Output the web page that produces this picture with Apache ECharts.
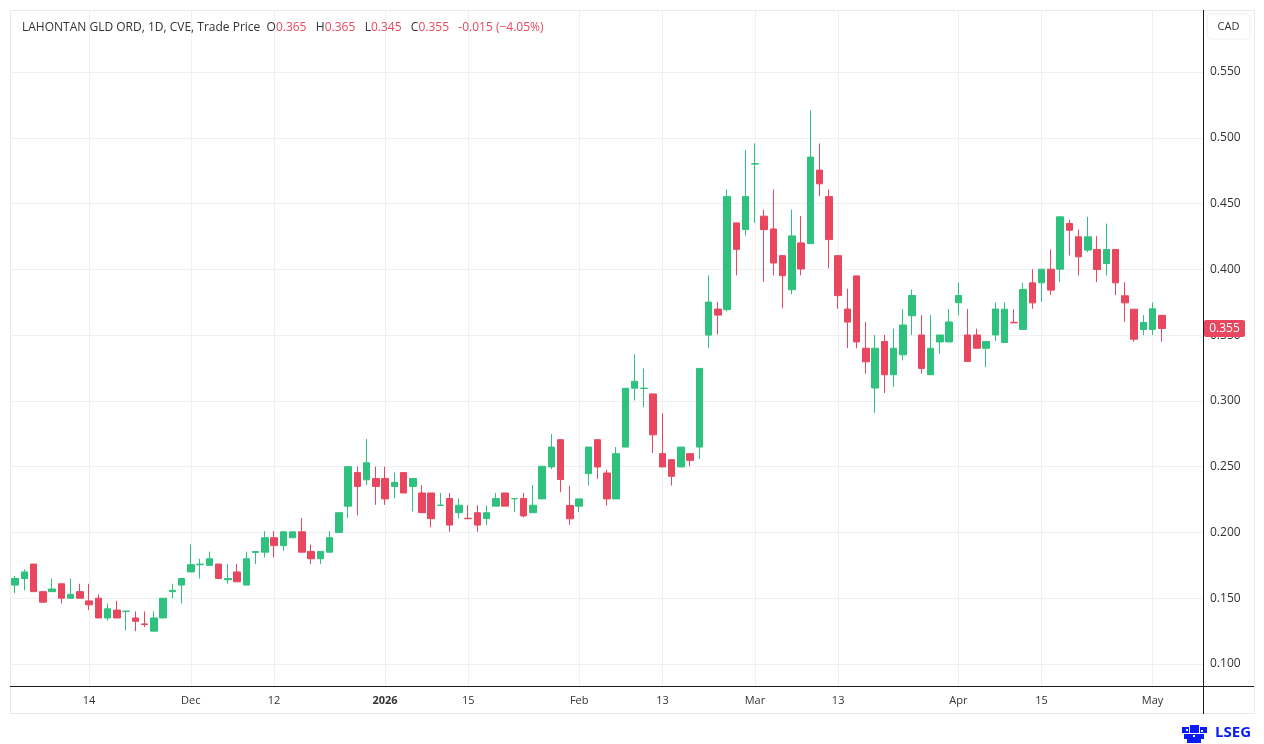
<!DOCTYPE html>
<html>
<head>
<meta charset="utf-8">
<script src="https://cdn.jsdelivr.net/npm/echarts@6/dist/echarts.min.js"></script>
<style>
html,body{margin:0;padding:0;background:#fff;}
#chart{width:1264px;height:744px;}
</style>
</head>
<body>
<div id="chart"></div>
<script>
// Trading days (CVE), Nov 4 2025 - May 4 2026
const dates = [
 '2025-11-04','2025-11-05','2025-11-06','2025-11-07','2025-11-10','2025-11-11','2025-11-12','2025-11-13','2025-11-14',
 '2025-11-17','2025-11-18','2025-11-19','2025-11-20','2025-11-21','2025-11-24','2025-11-25','2025-11-26','2025-11-27','2025-11-28',
 '2025-12-01','2025-12-02','2025-12-03','2025-12-04','2025-12-05','2025-12-08','2025-12-09','2025-12-10','2025-12-11','2025-12-12',
 '2025-12-15','2025-12-16','2025-12-17','2025-12-18','2025-12-19','2025-12-22','2025-12-23','2025-12-24','2025-12-29','2025-12-30','2025-12-31',
 '2026-01-02','2026-01-05','2026-01-06','2026-01-07','2026-01-08','2026-01-09','2026-01-12','2026-01-13','2026-01-14','2026-01-15',
 '2026-01-16','2026-01-19','2026-01-20','2026-01-21','2026-01-22','2026-01-23','2026-01-26','2026-01-27','2026-01-28','2026-01-29','2026-01-30',
 '2026-02-02','2026-02-03','2026-02-04','2026-02-05','2026-02-06','2026-02-09','2026-02-10','2026-02-11','2026-02-12','2026-02-13',
 '2026-02-17','2026-02-18','2026-02-19','2026-02-20','2026-02-23','2026-02-24','2026-02-25','2026-02-26','2026-02-27',
 '2026-03-02','2026-03-03','2026-03-04','2026-03-05','2026-03-06','2026-03-09','2026-03-10','2026-03-11','2026-03-12','2026-03-13',
 '2026-03-16','2026-03-17','2026-03-18','2026-03-19','2026-03-20','2026-03-23','2026-03-24','2026-03-25','2026-03-26','2026-03-27','2026-03-30','2026-03-31',
 '2026-04-01','2026-04-02','2026-04-06','2026-04-07','2026-04-08','2026-04-09','2026-04-10','2026-04-13','2026-04-14','2026-04-15',
 '2026-04-16','2026-04-17','2026-04-20','2026-04-21','2026-04-22','2026-04-23','2026-04-24','2026-04-27','2026-04-28','2026-04-29','2026-04-30',
 '2026-05-01','2026-05-04'
];

const opens = [
 .160,.165,.176,.155,.155,.161,.150,.155,.148,.150,.135,.141,.140,.135,.1305,.125,.135,.155,.160,.170,
 .1755,.175,.176,.164,.170,.160,.1848,.185,.196,.190,.196,.2005,.1856,.180,.185,.200,.220,.2455,.240,.241,
 .241,.235,.2455,.235,.230,.230,.2205,.2258,.215,.2108,.215,.2106,.220,.230,.2256,.2258,.215,.2255,.2498,.2705,
 .2205,.220,.2447,.2705,.2452,.2255,.2649,.3096,.3094,.3053,.2599,.2553,.2498,.2599,.2649,.350,.3698,.3693,.4353,.4302,
 .4800,.4404,.4307,.4104,.3845,.4201,.4195,.4754,.4553,.4104,.3698,.395,.340,.3098,.3451,.3199,.335,.3647,.3501,.3199,
 .3448,.3448,.3746,.3501,.3501,.340,.3501,.3444,.3597,.3543,.3897,.3897,.4001,.4001,.4348,.4247,.4146,.4151,.4044,.4151,
 .3799,.3697,.3543,.3543,.365
];
const highs = [
 .167,.172,.176,.155,.165,.161,.165,.161,.161,.153,.146,.148,.1405,.140,.140,.140,.150,.161,.165,.191,
 .180,.1855,.176,.176,.176,.1855,.1858,.201,.201,.2005,.2005,.211,.191,.1856,.201,.215,.250,.250,.271,.250,
 .250,.2455,.2455,.241,.236,.230,.230,.230,.2258,.2207,.2207,.2207,.230,.230,.2258,.230,.236,.2503,.2748,.2705,
 .2356,.2255,.2649,.2705,.2477,.2649,.3096,.3354,.3247,.3053,.2907,.2553,.2649,.2599,.3247,.3954,.3751,.4607,.4353,.4906,
 .4957,.4454,.4607,.4104,.4454,.4404,.5208,.4957,.4607,.4104,.3853,.395,.360,.3501,.3501,.3549,.3698,.3846,.3652,.3652,
 .3501,.3698,.3899,.3698,.3549,.3451,.3746,.3748,.3697,.3897,.4001,.4001,.4151,.4399,.4378,.4303,.4399,.4252,.4348,.4151,
 .3902,.3697,.3652,.3748,.365
];
const lows = [
 .154,.156,.155,.147,.155,.146,.150,.150,.141,.135,.133,.135,.1255,.125,.128,.125,.135,.150,.146,.170,
 .165,.175,.165,.161,.1625,.160,.176,.181,.181,.186,.196,.185,.176,.176,.185,.200,.211,.213,.236,.221,
 .221,.226,.230,.216,.215,.204,.2205,.2005,.2106,.2104,.2005,.2056,.220,.220,.2157,.2114,.215,.2255,.2482,.2306,
 .2058,.2154,.2356,.2407,.2205,.2255,.2649,.3003,.2952,.2604,.2498,.2356,.2498,.2503,.2558,.3401,.3505,.368,.3954,.4256,
 .4353,.3904,.3954,.3703,.381,.3954,.4195,.4556,.4008,.370,.3401,.340,.3207,.2909,.306,.3106,.3307,.3501,.3207,.3199,
 .3358,.3448,.3652,.330,.340,.3257,.3456,.3444,.3593,.3543,.370,.3753,.3804,.3902,.4106,.3953,.4130,.3902,.3953,.3804,
 .3601,.3449,.350,.350,.345
];
const closes = [
 .165,.170,.155,.147,.157,.150,.153,.150,.145,.135,.142,.135,.1402,.1325,.130,.135,.150,.156,.165,.1755,
 .176,.180,.165,.165,.1625,.180,.1855,.196,.190,.2005,.2005,.185,.180,.1856,.196,.215,.250,.235,.253,.235,
 .2255,.238,.230,.241,.215,.2105,.2208,.2056,.2207,.2104,.2056,.215,.2258,.220,.2258,.2126,.2207,.2503,.2649,.2402,
 .2104,.2255,.2649,.2498,.2255,.2599,.3096,.3149,.3097,.2742,.2498,.2427,.2649,.2548,.3247,.3751,.3652,.4553,.4152,.4553,
 .4803,.4302,.4048,.3952,.4254,.4003,.4853,.465,.4226,.380,.3599,.3448,.3297,.340,.3199,.340,.3577,.3801,.3247,.340,
 .3501,.360,.3801,.330,.340,.3451,.3698,.3697,.3593,.3847,.3745,.4001,.3842,.4399,.4297,.4095,.4247,.3999,.4151,.3897,
 .3745,.3469,.3596,.370,.355
];

// x-axis tick labels (trading-day index -> text)
const tickIndex = [8, 19, 28, 40, 49, 61, 70, 80, 89, 102, 111, 123];
const tickText  = ['14','Dec','12','2026','15','Feb','13','Mar','13','Apr','15','May'];
// y-axis tick labels
const priceTicks = [0.100,0.150,0.200,0.250,0.300,0.350,0.400,0.450,0.500,0.550];

const UP = '#2fc27f', DOWN = '#e8475f';

const candleData = dates.map((d, i) => [i, opens[i], closes[i], lows[i], highs[i]]);
const tickMap = {};
tickIndex.forEach((v, k) => tickMap[v] = tickText[k]);

const last = dates.length - 1;
const chg = closes[last] - closes[last - 1];
const pct = chg / closes[last - 1] * 100;
const fmtSigned = v => (v < 0 ? '-' : '+') + Math.abs(v).toFixed(3);

const chart = echarts.init(document.getElementById('chart'), null, {renderer: 'canvas'});
const FONT = 'Open Sans, Noto Sans, sans-serif';
const SP = '   ';

const option = {
  animation: false,
  backgroundColor: '#ffffff',
  textStyle: {fontFamily: FONT},
  title: {
    left: 17, top: 17,
    text: '{a|LAHONTAN GLD ORD, 1D, CVE, Trade Price  O}{r|' + opens[last].toFixed(3) + '}{a|' + SP + 'H}{r|' + highs[last].toFixed(3) +
          '}{a|' + SP + 'L}{r|' + lows[last].toFixed(3) + '}{a|' + SP + 'C}{r|' + closes[last].toFixed(3) + '}{r|' + SP + fmtSigned(chg) +
          ' (' + (pct < 0 ? '\u2212' : '+') + Math.abs(pct).toFixed(2) + '%)}',
    textStyle: {
      fontSize: 12, fontWeight: 'normal', fontFamily: FONT,
      rich: {
        a: {color: '#333333', fontSize: 12, fontFamily: FONT},
        r: {color: DOWN, fontSize: 12, fontFamily: FONT}
      }
    }
  },
  grid: {left: 10, right: 61, top: 10, bottom: 58, containLabel: false},
  xAxis: {
    type: 'value',
    min: -0.55, max: 128.45,
    axisLine: {show: false},
    axisTick: {show: false, customValues: tickIndex},
    splitLine: {show: true, lineStyle: {color: '#f0f0f0', width: 1}},
    axisLabel: {
      customValues: tickIndex,
      color: '#333333', fontSize: 11, margin: 9, fontFamily: FONT,
      formatter: v => tickMap[v] === '2026' ? '{b|2026}' : (tickMap[v] || ''),
      rich: {b: {fontWeight: 'bold', fontSize: 11, color: '#333333', fontFamily: FONT}}
    }
  },
  yAxis: {
    type: 'value',
    position: 'right',
    min: 0.0833, max: 0.5971,
    scale: true,
    axisLine: {show: false},
    axisTick: {show: false, customValues: priceTicks},
    splitLine: {show: true, lineStyle: {color: '#f0f0f0', width: 1}},
    axisLabel: {
      customValues: priceTicks,
      color: '#333333', fontSize: 12, margin: 7, fontFamily: FONT,
      formatter: v => v.toFixed(3)
    }
  },
  series: [{
    type: 'candlestick',
    data: candleData,
    barWidth: 7,
    itemStyle: {
      color: UP, color0: DOWN,
      borderColor: UP, borderColor0: DOWN,
      borderWidth: 1
    }
  }],
  graphic: []
};
chart.setOption(option);

// price tag positioned through the y axis scale
const tagY = chart.convertToPixel({yAxisIndex: 0}, closes[last]);
const graphics = [
  // outer frame
  {type: 'rect', shape: {x: 10.5, y: 10.5, width: 1244, height: 703}, style: {fill: 'none', stroke: '#e9e9e9', lineWidth: 1}, z: 1, silent: true},
  // axis separators
  {type: 'line', shape: {x1: 1203.5, y1: 10, x2: 1203.5, y2: 714}, style: {stroke: '#1a1a1a', lineWidth: 1}, z: 50, silent: true},
  {type: 'line', shape: {x1: 10, y1: 686.5, x2: 1254, y2: 686.5}, style: {stroke: '#1a1a1a', lineWidth: 1}, z: 50, silent: true},
  // currency box
  {type: 'rect', shape: {x: 1207, y: 14, width: 43, height: 25, r: 4}, style: {fill: '#ffffff', stroke: '#eeeeee', lineWidth: 1}, z: 50},
  {type: 'text', x: 1228.5, y: 27, style: {text: 'CAD', fill: '#333333', font: '11px ' + FONT, align: 'center', verticalAlign: 'middle'}, z: 51},
  // last price tag
  {type: 'rect', shape: {x: 1204, y: tagY - 8.5, width: 41, height: 17, r: 2}, style: {fill: DOWN}, z: 60},
  {type: 'text', x: 1224.5, y: tagY, style: {text: closes[last].toFixed(3), fill: '#ffffff', font: '12px ' + FONT, align: 'center', verticalAlign: 'middle'}, z: 61},
  // LSEG logo
  {type: 'text', x: 1215, y: 733, style: {text: 'LSEG', fill: '#0a1cf5', font: 'bold 15px ' + FONT, align: 'left', verticalAlign: 'middle'}, z: 61},
  {type: 'group', x: 1181, y: 725, z: 61, children: [
    {type: 'rect', shape: {x: 1, y: 2, width: 7, height: 6}, style: {fill: '#0a1cf5'}},
    {type: 'rect', shape: {x: 9, y: 0, width: 9, height: 8}, style: {fill: '#0a1cf5'}},
    {type: 'rect', shape: {x: 19, y: 2, width: 7, height: 6}, style: {fill: '#0a1cf5'}},
    {type: 'rect', shape: {x: 3, y: 9, width: 20, height: 5}, style: {fill: '#0a1cf5'}},
    {type: 'rect', shape: {x: 6, y: 14, width: 14, height: 4}, style: {fill: '#0a1cf5'}},
    {type: 'rect', shape: {x: 5, y: 4, width: 2, height: 2}, style: {fill: '#ffffff'}},
    {type: 'rect', shape: {x: 12, y: 10, width: 2, height: 2}, style: {fill: '#ffffff'}},
    {type: 'rect', shape: {x: 20, y: 5, width: 2, height: 2}, style: {fill: '#ffffff'}}
  ]}
];
chart.setOption({graphic: graphics});
</script>
</body>
</html>
